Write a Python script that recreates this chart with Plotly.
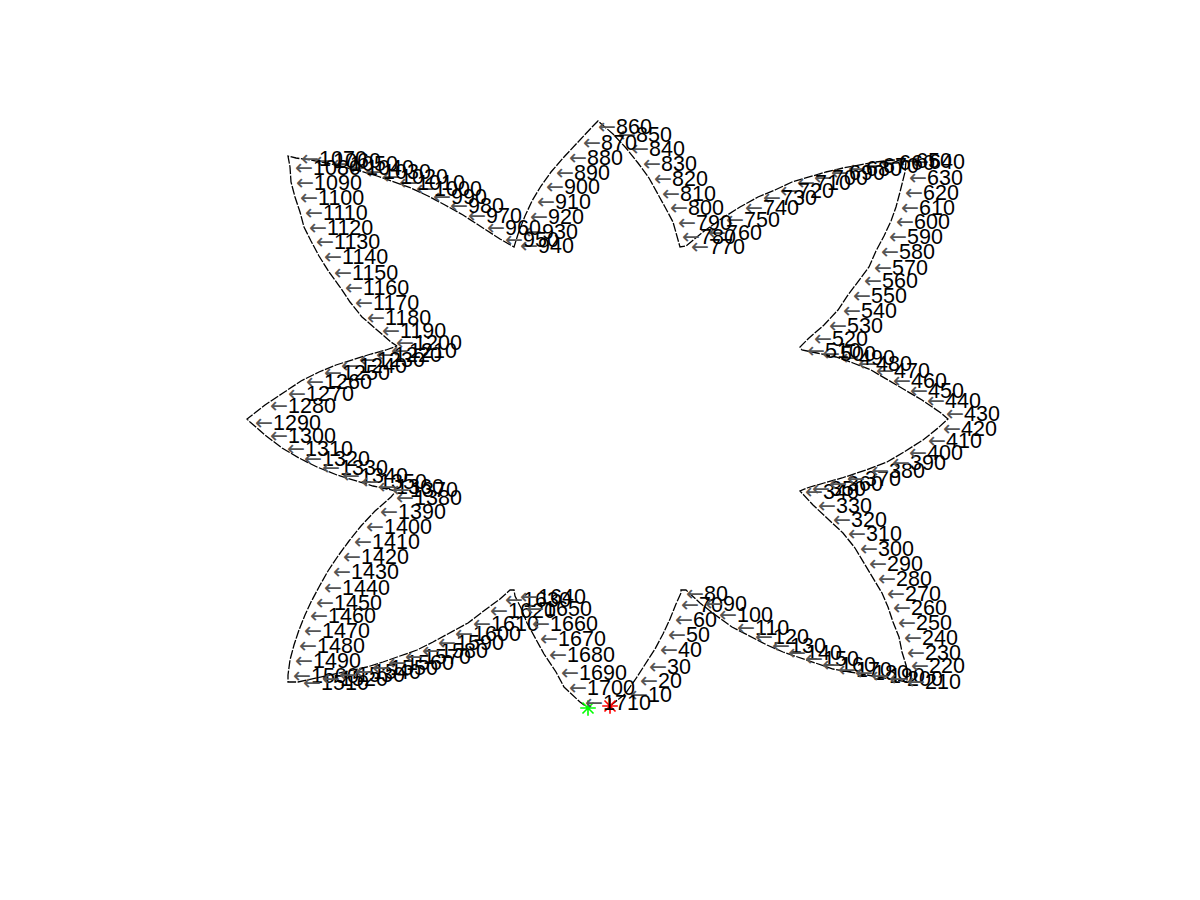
import plotly.graph_objects as go

# path vertices: sample index, x, y (data units, origin at the shape centre)
pt_idx = [1, 10, 20, 30, 40, 50, 60, 70, 80, 82, 83,
          90, 100, 110, 120, 130, 140, 150, 160, 170, 180, 190, 200, 210, 213, 215,
          220, 230, 240, 250, 260, 270, 280, 290, 300, 310, 320, 330, 340,
          350, 360, 370, 380, 390, 400, 410, 420, 427,
          430, 440, 450, 460, 470, 480, 490, 500, 510, 513,
          520, 530, 540, 550, 560, 570, 580, 590, 600, 610, 620, 630, 636, 640,
          650, 660, 670, 680, 690, 700, 710, 720, 730, 740, 750, 760, 770, 772,
          780, 790, 800, 810, 820, 830, 840, 850, 857,
          860, 870, 880, 890, 900, 910, 920, 930, 940, 942,
          950, 960, 970, 980, 990, 1000, 1010, 1020, 1030, 1040, 1050, 1060, 1070, 1072,
          1080, 1090, 1100, 1110, 1120, 1130, 1140, 1150, 1160, 1170, 1180, 1190, 1200, 1204,
          1210, 1220, 1230, 1240, 1250, 1260, 1270, 1280, 1288,
          1290, 1300, 1310, 1320, 1330, 1340, 1350, 1360, 1370, 1374,
          1380, 1390, 1400, 1410, 1420, 1430, 1440, 1450, 1460, 1470, 1480, 1490, 1500, 1504,
          1510, 1520, 1530, 1540, 1550, 1560, 1570, 1580, 1590, 1600, 1610, 1620, 1630, 1633, 1635,
          1640, 1650, 1660, 1670, 1680, 1690, 1700, 1710, 1714]

pt_x = [10, 25, 35, 44, 55, 63, 70, 76, 81, 81, 86,
        100, 114, 132, 150, 167, 183, 200, 217, 233, 250, 266, 284, 302, 307, 307,
        306, 302, 299, 293, 288, 282, 273, 264, 255, 243, 228, 213, 200,
        207, 224, 242, 266, 287, 304, 323, 338, 348,
        341, 322, 305, 288, 271, 253, 236, 217, 202, 200,
        209, 224, 238, 248, 259, 269, 276, 284, 291, 296, 300, 304, 305, 306,
        293, 276, 260, 243, 226, 209, 192, 175, 158, 140, 121, 103, 86, 80,
        77, 73, 65, 57, 49, 38, 26, 13, -2,
        -7, -22, -36, -49, -59, -68, -75, -81, -85, -86,
        -100, -118, -137, -155, -172, -189, -206, -223, -240, -257, -273, -290, -304, -312,
        -310, -309, -305, -300, -296, -289, -281, -271, -260, -250, -238, -223, -209, -203,
        -214, -229, -246, -264, -281, -299, -317, -335, -353,
        -350, -335, -318, -301, -283, -263, -244, -227, -213, -204,
        -209, -225, -239, -251, -262, -272, -281, -289, -295, -301, -306, -310, -312, -312,
        -302, -283, -266, -250, -233, -217, -200, -183, -167, -150, -132, -115, -100, -90, -86,
        -85, -79, -73, -65, -56, -44, -36, -20, -12]

pt_y = [-286, -274, -260, -246, -229, -214, -199, -184, -173, -170, -170,
        -183, -194, -207, -216, -225, -232, -238, -244, -249, -252, -255, -258, -261, -262, -250,
        -245, -232, -217, -202, -187, -173, -158, -143, -128, -113, -99, -85, -71,
        -68, -63, -58, -50, -42, -32, -20, -8, 1,
        7, 20, 30, 40, 50, 57, 63, 67, 70, 73,
        82, 95, 110, 125, 140, 153, 169, 184, 199, 213, 228, 243, 248, 259,
        260, 258, 255, 252, 248, 243, 238, 230, 223, 213, 201, 188, 174, 173,
        184, 198, 213, 227, 242, 257, 272, 286, 299,
        294, 278, 263, 248, 234, 219, 204, 189, 175, 173,
        181, 193, 205, 215, 224, 232, 238, 244, 249, 253, 257, 260, 262, 264,
        253, 238, 223, 208, 193, 179, 164, 148, 133, 118, 103, 90, 78, 74,
        70, 66, 61, 55, 48, 39, 27, 15, 1,
        -2, -15, -28, -38, -47, -55, -61, -66, -69, -71,
        -77, -91, -106, -121, -136, -151, -167, -182, -195, -210, -225, -240, -255, -262,
        -262, -258, -254, -251, -247, -242, -236, -230, -222, -213, -203, -190, -179, -170, -170,
        -176, -188, -203, -218, -234, -252, -267, -282, -288]

label_step = 10

fig = go.Figure()

fig.add_trace(go.Scatter(
    x=pt_x, y=pt_y, mode="lines",
    line=dict(color="black", width=1.3, dash="9px,1.5px"),
    hoverinfo="skip", showlegend=False))

fig.add_trace(go.Scatter(
    x=[pt_x[0]], y=[pt_y[0]], mode="markers",
    marker=dict(symbol="asterisk-open", size=13, color="#ff0000",
                line=dict(color="#ff0000", width=1.6)),
    showlegend=False))
fig.add_trace(go.Scatter(
    x=[pt_x[-1]], y=[pt_y[-1]], mode="markers",
    marker=dict(symbol="asterisk-open", size=13, color="#00ff00",
                line=dict(color="#00ff00", width=1.6)),
    showlegend=False))

arrow = '<span style="font-family:\'DejaVu Sans\';color:#555555">\u2190</span>'
annotations = []
for i, x, y in zip(pt_idx, pt_x, pt_y):
    if i % label_step == 0:
        annotations.append(dict(
            x=x, y=y, xref="x", yref="y", text=arrow + str(i),
            showarrow=False, xanchor="left", yanchor="middle",
            xshift=4, borderpad=0,
            font=dict(family="Liberation Sans, Arial, sans-serif", size=21.5, color="black")))

fig.update_layout(
    width=1200, height=900,
    margin=dict(l=0, r=0, t=0, b=0),
    paper_bgcolor="white", plot_bgcolor="white",
    annotations=annotations,
    xaxis=dict(range=[-600, 600], visible=False, fixedrange=True),
    yaxis=dict(range=[-480, 420], visible=False, fixedrange=True),
)

fig.write_html("out.html")
